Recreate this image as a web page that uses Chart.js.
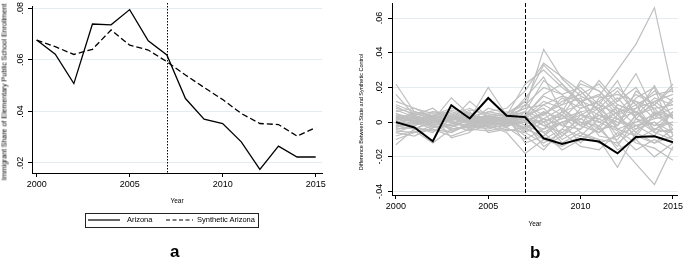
<!DOCTYPE html>
<html>
<head>
<meta charset="utf-8">
<script src="https://cdn.jsdelivr.net/npm/chart.js@4.4.1/dist/chart.umd.min.js"></script>
<style>
  body { margin:0; width:685px; height:261px; background:#fff; position:relative; overflow:hidden; font-family:"Liberation Sans", Arial, sans-serif; color:#000; }
  canvas { position:absolute; top:0; }
  #chartA { left:0; }
  #chartB { left:340px; }
  .ytitle { position:absolute; white-space:nowrap; transform:translate(-50%,-50%) rotate(-90deg); line-height:1; }
  .leg { position:absolute; font-size:7.5px; line-height:8px; white-space:nowrap; }
  .panel { position:absolute; font-weight:bold; font-size:17px; line-height:17px; }
</style>
</head>
<body>
<canvas id="chartA" width="340" height="210"></canvas>
<canvas id="chartB" width="345" height="235"></canvas>

<div class="ytitle" style="left:4px;top:92px;font-size:7px;">Immigrant Share of Elementary Public School Enrollment</div>
<div class="ytitle" style="left:362px;top:112px;font-size:5.5px;">Difference Between State and Synthetic Control</div>

<!-- legend for panel a -->
<div style="position:absolute;left:85px;top:213px;width:172px;height:13px;border:1px solid #222;"></div>
<svg style="position:absolute;left:0;top:0;" width="685" height="261">
  <line x1="88" y1="220" x2="120" y2="220" stroke="#000" stroke-width="1.2"/>
  <line x1="166" y1="220" x2="193" y2="220" stroke="#000" stroke-width="1.2" stroke-dasharray="4,2.5"/>
</svg>
<span class="leg" style="left:127px;top:216px;">Arizona</span>
<span class="leg" style="left:197px;top:216px;">Synthetic Arizona</span>

<span class="panel" style="left:170px;top:243px;">a</span>
<span class="panel" style="left:530px;top:244px;">b</span>

<script>
// data
const years = [2000, 2001, 2002, 2003, 2004, 2005, 2006, 2007, 2008, 2009, 2010, 2011, 2012, 2013, 2014, 2015];
const arizona      = [0.0677, 0.0622, 0.0508, 0.0739, 0.0736, 0.0795, 0.0674, 0.0619, 0.0450, 0.0370, 0.0353, 0.0282, 0.0175, 0.0265, 0.0223, 0.0223];
const synthArizona = [0.0677, 0.0651, 0.0621, 0.0641, 0.0716, 0.0657, 0.0638, 0.0593, 0.0541, 0.0493, 0.0446, 0.0392, 0.0353, 0.0349, 0.0304, 0.0337];
const arizonaGap   = [0.0000, -0.0031, -0.0110, 0.0098, 0.0021, 0.0139, 0.0037, 0.0029, -0.0093, -0.0126, -0.0097, -0.0112, -0.0180, -0.0085, -0.0081, -0.0116];

// placebo gaps for the other states (grey lines)
const placeboGaps = [
  [0.022, 0.006, 0.003, 0.004, 0.002, 0.001, 0.003, 0.008, 0.042, 0.025, 0.015, 0.010, 0.005, 0.012, 0.008, 0.010],
  [0.016, 0.004, -0.002, 0.002, 0.001, 0.003, 0.005, 0.012, 0.033, 0.022, 0.010, 0.024, 0.012, 0.028, 0.006, 0.004],
  [-0.013, -0.004, 0.001, 0.000, -0.003, -0.002, -0.006, -0.018, -0.010, -0.014, -0.008, -0.010, -0.026, -0.006, -0.012, -0.008],
  [0.005, 0.002, 0.001, 0.014, 0.004, 0.002, 0.000, 0.002, 0.010, 0.015, 0.012, 0.015, 0.030, 0.045, 0.066, 0.017],
  [-0.004, -0.002, 0.003, -0.005, -0.002, 0.001, 0.002, -0.004, -0.008, 0.004, -0.006, -0.010, -0.012, -0.024, -0.036, -0.014],
  [0.003, 0.002, 0.000, 0.003, 0.002, 0.020, 0.004, 0.022, 0.030, 0.020, 0.012, 0.008, 0.018, 0.005, 0.021, 0.002],
  [-0.006, -0.008, -0.003, -0.002, -0.001, 0.000, 0.002, -0.005, 0.006, -0.008, 0.004, 0.000, -0.005, -0.012, -0.015, -0.022],
  [0.008, 0.005, 0.002, 0.001, 0.012, 0.003, 0.001, 0.004, 0.015, 0.010, 0.022, 0.018, 0.006, 0.016, 0.010, 0.022],
  [0.001, -0.003, -0.006, 0.002, 0.004, 0.000, -0.002, 0.000, -0.004, 0.006, 0.010, 0.004, 0.002, -0.008, 0.005, 0.003],
  [-0.002, 0.004, 0.008, 0.000, -0.003, 0.002, 0.003, 0.006, 0.002, -0.010, -0.004, 0.006, -0.008, 0.004, 0.014, 0.010],
  [0.004, 0.000, -0.002, -0.006, 0.000, 0.004, 0.001, -0.008, -0.016, -0.004, 0.008, 0.012, 0.002, -0.004, 0.000, -0.006],
  [-0.008, -0.005, -0.012, -0.004, -0.002, -0.004, -0.001, 0.003, 0.012, 0.008, -0.002, -0.006, 0.004, 0.010, -0.005, 0.006],
  [0.002, 0.003, 0.002, 0.006, 0.003, -0.003, 0.000, 0.010, 0.020, 0.016, 0.004, 0.010, 0.024, 0.002, 0.012, 0.004],
  [0.000, -0.001, 0.004, -0.009, -0.006, 0.006, 0.004, -0.002, -0.006, -0.016, -0.010, -0.004, -0.014, 0.002, -0.006, -0.010],
  [0.006, 0.008, 0.005, 0.003, 0.000, -0.001, 0.002, 0.014, 0.026, 0.006, -0.002, 0.004, -0.002, 0.008, 0.018, 0.012],
  [-0.003, 0.001, -0.001, 0.004, 0.008, 0.003, 0.002, 0.001, 0.004, 0.012, 0.016, 0.022, 0.010, 0.006, -0.002, 0.000],
  [0.010, 0.006, 0.004, 0.002, -0.001, 0.001, -0.003, -0.010, -0.004, 0.000, -0.012, -0.002, 0.006, -0.010, -0.020, -0.012],
  [-0.005, -0.006, -0.004, -0.008, -0.004, -0.005, -0.003, 0.004, 0.008, -0.002, 0.006, -0.008, -0.010, 0.004, 0.008, -0.004],
  [0.002, 0.004, 0.006, 0.005, 0.003, 0.006, 0.008, 0.018, 0.034, 0.026, 0.018, 0.006, 0.012, 0.020, 0.004, 0.008],
  [-0.001, 0.002, 0.000, 0.001, 0.006, -0.006, -0.004, -0.006, -0.012, -0.006, -0.014, -0.016, -0.006, -0.016, -0.010, -0.016],
  [0.007, 0.003, -0.002, -0.003, 0.002, 0.004, 0.006, 0.002, 0.000, 0.004, -0.002, 0.014, 0.016, 0.012, 0.002, 0.014],
  [-0.010, -0.006, -0.002, 0.002, 0.000, 0.001, 0.000, 0.000, 0.006, 0.002, 0.012, -0.004, -0.002, 0.018, 0.010, 0.002],
  [0.003, 0.001, 0.004, 0.008, 0.005, 0.000, -0.002, 0.006, -0.002, -0.006, 0.002, 0.008, -0.012, -0.004, 0.006, -0.002],
  [0.000, 0.003, 0.001, -0.002, -0.005, -0.002, 0.003, -0.012, -0.008, 0.000, 0.004, 0.002, 0.008, -0.002, -0.008, 0.006],
  [0.005, 0.000, 0.006, 0.004, 0.000, 0.008, 0.005, 0.010, 0.004, 0.014, 0.008, 0.012, 0.020, 0.010, 0.016, 0.018],
  [-0.004, -0.003, -0.005, -0.001, 0.002, 0.000, -0.005, -0.003, -0.010, -0.004, -0.008, 0.002, -0.004, -0.008, -0.012, -0.004],
  [0.001, 0.005, 0.002, 0.000, -0.002, -0.002, 0.000, 0.004, 0.016, 0.022, 0.012, 0.016, 0.004, -0.006, 0.004, 0.012],
  [0.012, 0.008, 0.003, 0.001, 0.003, 0.002, 0.001, -0.004, 0.002, 0.008, 0.000, -0.006, 0.002, 0.006, -0.004, 0.000],
  [-0.002, -0.004, 0.000, 0.003, 0.001, -0.001, -0.001, 0.003, -0.002, 0.002, 0.006, 0.008, -0.002, 0.014, 0.020, -0.008],
  [0.004, 0.002, -0.001, -0.002, 0.001, 0.003, 0.004, 0.008, 0.010, 0.004, 0.018, 0.006, 0.014, 0.002, -0.002, 0.006],
  [-0.006, -0.002, 0.002, 0.001, -0.004, -0.001, 0.001, -0.006, 0.000, -0.012, -0.006, -0.012, -0.008, -0.002, 0.000, -0.010],
  [0.002, 0.000, 0.003, 0.007, 0.004, 0.002, -0.001, 0.001, 0.005, 0.010, 0.014, 0.000, 0.006, 0.008, 0.012, 0.016],
  [0.009, 0.004, 0.001, -0.004, -0.003, 0.000, 0.002, 0.006, 0.024, 0.016, 0.020, 0.010, -0.004, 0.000, 0.004, -0.002],
  [-0.003, 0.000, -0.004, -0.006, -0.001, -0.003, -0.002, 0.000, -0.014, -0.008, 0.000, -0.002, -0.016, -0.010, -0.004, -0.006],
  [0.001, 0.006, 0.003, 0.002, 0.007, 0.005, 0.003, 0.012, 0.000, 0.006, 0.024, 0.018, 0.008, 0.004, 0.010, 0.020],
  [-0.002, -0.001, 0.001, 0.002, 0.000, 0.002, 0.001, -0.003, 0.002, -0.002, -0.004, 0.004, 0.000, -0.002, 0.002, 0.004],
  [0.003, 0.001, -0.003, -0.001, 0.003, -0.002, 0.002, 0.004, -0.006, 0.000, 0.002, -0.004, 0.010, 0.006, -0.006, -0.004]
];

const xTicks = [2000, 2005, 2010, 2015];
const yTicksA = [0.02, 0.04, 0.06, 0.08];
const yTicksB = [-0.04, -0.02, 0, 0.02, 0.04, 0.06];
const treatYear = 2007;

const FONT = 'Liberation Sans';
const GRID = '#e3edef';

function pts(vals) {
  return years.map((yr, i) => ({ x: yr, y: vals[i] }));
}

// stata style labels: .02, 0, -.02
function fmt(v) {
  if (Math.abs(v) < 1e-9) return '0';
  return v.toFixed(2).replace('0.', '.');
}

// rotated y tick labels
const yLabels = {
  id: 'yLabels',
  afterDraw(chart, args, opts) {
    const s = chart.scales.y, ctx = chart.ctx;
    ctx.save();
    ctx.font = '9px "' + FONT + '"';
    ctx.fillStyle = '#000';
    ctx.textAlign = 'center';
    ctx.textBaseline = 'middle';
    s.ticks.forEach(t => {
      ctx.save();
      ctx.translate(opts.x, s.getPixelForValue(t.value));
      ctx.rotate(-Math.PI / 2);
      ctx.fillText(fmt(t.value), 0, 0);
      ctx.restore();
    });
    ctx.restore();
  }
};

// vertical line at the treatment year
const treatLine = {
  id: 'treatLine',
  beforeDatasetsDraw(chart, args, opts) {
    const a = chart.chartArea, ctx = chart.ctx;
    const x = Math.round(chart.scales.x.getPixelForValue(treatYear)) + 0.5;
    ctx.save();
    ctx.strokeStyle = '#000';
    ctx.lineWidth = 1;
    ctx.setLineDash(opts.dash);
    ctx.beginPath();
    ctx.moveTo(x, a.top - opts.over);
    ctx.lineTo(x, a.bottom);
    ctx.stroke();
    ctx.restore();
  }
};

function makeScales(o) {
  return {
    x: {
      type: 'linear', min: o.xMin, max: o.xMax,
      afterBuildTicks: s => { s.ticks = xTicks.map(v => ({ value: v })); },
      afterFit: s => { s.height = o.xHeight; },
      grid: { drawOnChartArea: false, tickColor: '#000', tickLength: 4 },
      border: { color: '#000', width: 1 },
      ticks: { color: '#000', font: { family: FONT, size: 9 }, padding: 2, maxRotation: 0, callback: v => String(v) },
      title: { display: true, text: 'Year', color: '#000', font: { family: FONT, size: 6.5 }, padding: { top: 0, bottom: o.titlePad } }
    },
    y: {
      min: o.yMin, max: o.yMax,
      afterBuildTicks: s => { s.ticks = o.yTicks.map(v => ({ value: v })); },
      afterFit: s => { s.width = o.yWidth; },
      grid: { color: GRID, tickColor: '#000', tickLength: 4 },
      border: { color: '#000', width: 1 },
      ticks: { display: false }
    }
  };
}

// panel a
new Chart(document.getElementById('chartA'), {
  type: 'line',
  data: {
    datasets: [
      { label: 'Arizona', data: pts(arizona), borderColor: '#000', borderWidth: 1.3 },
      { label: 'Synthetic Arizona', data: pts(synthArizona), borderColor: '#000', borderWidth: 1.3, borderDash: [6, 3] }
    ]
  },
  options: {
    responsive: false, animation: false, devicePixelRatio: 1,
    layout: { padding: { top: 6, right: 18, left: 0, bottom: 0 } },
    elements: { point: { radius: 0 }, line: { tension: 0 } },
    scales: makeScales({ xMin: 1999.75, xMax: 2015.34, yMin: 0.0161, yMax: 0.0809, yTicks: yTicksA, yWidth: 32, xHeight: 37, titlePad: 5 }),
    plugins: {
      legend: { display: false }, tooltip: { enabled: false },
      yLabels: { x: 20.5 },
      treatLine: { dash: [1.5, 1.5], over: 3 }
    }
  },
  plugins: [yLabels, treatLine]
});

// panel b
const gapSets = [{ label: 'Arizona', data: pts(arizonaGap), borderColor: '#000', borderWidth: 2, order: 0 }];
placeboGaps.forEach((g, i) => {
  gapSets.push({ label: 'placebo ' + (i + 1), data: pts(g), borderColor: '#bfbfbf', borderWidth: 1.2, order: 1 });
});

new Chart(document.getElementById('chartB'), {
  type: 'line',
  data: { datasets: gapSets },
  options: {
    responsive: false, animation: false, devicePixelRatio: 1,
    layout: { padding: { top: 3, right: 4, left: 0, bottom: 0 } },
    elements: { point: { radius: 0 }, line: { tension: 0 } },
    scales: makeScales({ xMin: 1999.79, xMax: 2015.27, yMin: -0.042, yMax: 0.0687, yTicks: yTicksB, yWidth: 52, xHeight: 40, titlePad: 7 }),
    plugins: {
      legend: { display: false }, tooltip: { enabled: false },
      yLabels: { x: 40 },
      treatLine: { dash: [4, 2], over: 0 }
    }
  },
  plugins: [yLabels, treatLine]
});
</script>
</body>
</html>
